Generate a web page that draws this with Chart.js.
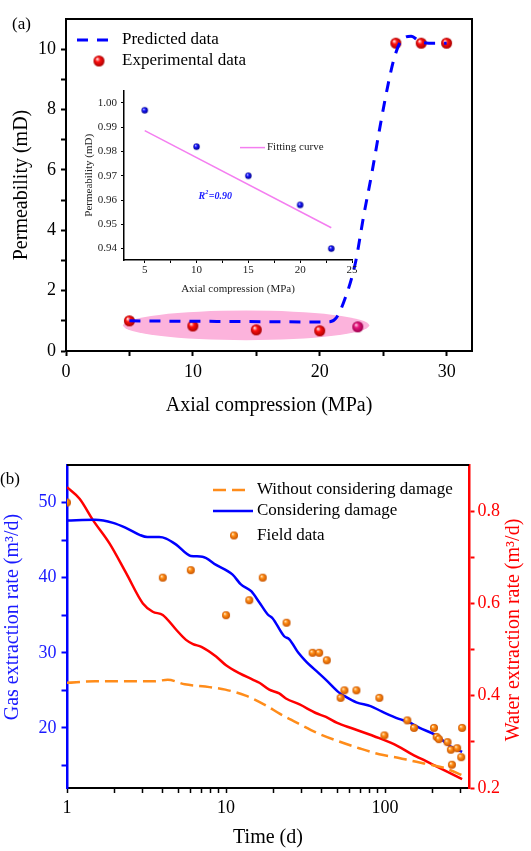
<!DOCTYPE html>
<html>
<head>
<meta charset="utf-8">
<script src="https://cdn.jsdelivr.net/npm/chart.js@4"></script>
<style>
  html, body { margin: 0; padding: 0; background: #fff; }
  #wrap { position: relative; width: 531px; height: 851px; overflow: hidden; }
  #wrap canvas { position: absolute; }
</style>
</head>
<body>
<div id="wrap">
  <canvas id="chartA" width="531" height="420" style="left:0;top:0"></canvas>
  <canvas id="chartInset" width="285" height="220" style="left:80px;top:80px"></canvas>
  <canvas id="chartB" width="531" height="431" style="left:0;top:420px"></canvas>
</div>
<script>
// (a) permeability vs axial compression
const pressure = [5, 10, 15, 20, 23, 26, 28, 30];
const permeabilityExp = [1.0, 0.83, 0.70, 0.67, 0.80, 10.2, 10.2, 10.2];
const predictedPressure = [5, 8, 12, 16, 20, 20.8, 21.3, 21.9, 22.8, 23.45, 24.1, 24.75, 25.4, 25.9, 26.45, 27.2, 27.9, 28.6, 30];
const predictedPermeability = [1.0, 0.99, 0.98, 0.97, 0.96, 0.97, 1.1, 1.63, 2.9, 4.45, 5.88, 7.43, 8.86, 9.75, 10.3, 10.43, 10.25, 10.2, 10.2];
// highlighted low-pressure region (x range, y range)
const highlightX = [4.5, 23.9];
const highlightY = [0.36, 1.34];

// inset: low-pressure detail
const insetPressure = [5, 10, 15, 20, 23];
const insetPermeability = [0.997, 0.982, 0.970, 0.958, 0.940];
const fitPressure = [5, 23];
const fitPermeability = [0.9886, 0.9486];

// (b) extraction rates vs time
const fieldTime = [1, 4, 6, 10, 14, 17, 24, 35, 38.5, 43, 52.5, 55.5, 66, 92, 99, 138, 152, 203, 211, 218, 247, 259, 263, 284, 301, 305];
const fieldGas = [50, 40, 41, 35, 37, 40, 34, 30, 30, 29, 24, 25, 25, 24, 19, 21, 20, 20, 18.8, 18.5, 18.1, 17.1, 15.1, 17.3, 16.1, 20];
const damageTime = [1, 1.5, 1.95, 2.36, 2.86, 3.2, 3.8, 4.2, 4.86, 6.0, 7.1, 8.66, 11.0, 12.4, 14.4, 16.2, 18.3, 19.6, 23.2, 25, 28.5, 32, 36, 42.5, 51.4, 56, 66, 81, 95, 122, 140, 165, 210, 255, 305];
const damageGas = [47.6, 47.7, 47.3, 46.6, 45.7, 45.4, 45.4, 45.2, 44.4, 42.9, 42.8, 41.7, 40.4, 39.1, 38.2, 36.7, 35.1, 34.6, 32.2, 31.8, 30.0, 28.8, 27.8, 26.4, 24.7, 24.2, 23.4, 22.9, 22.2, 21.2, 20.8, 20.0, 19.0, 17.6, 16.8];
const noDamageTime = [1, 1.5, 2.5, 3.5, 4.3, 5.5, 7.4, 9.9, 13.3, 17.8, 21.7, 29, 38.6, 51.4, 68.6, 92, 122.5, 148, 203, 241, 305];
const noDamageGas = [26.0, 26.2, 26.2, 26.2, 26.4, 25.8, 25.5, 25.1, 24.3, 23.0, 21.9, 20.5, 19.2, 18.2, 17.3, 16.5, 16.0, 15.6, 15.0, 14.6, 13.7];
const waterTime = [1, 1.2, 1.46, 1.85, 2.36, 3.0, 3.46, 4.0, 4.86, 5.6, 6.2, 7.0, 8.66, 10, 12.1, 14.7, 16.2, 18.7, 21.6, 23.8, 29, 37, 42.5, 50, 62.5, 92, 120, 148, 181, 240, 305];
const waterRate = [0.852, 0.827, 0.780, 0.730, 0.665, 0.600, 0.582, 0.575, 0.543, 0.521, 0.512, 0.506, 0.485, 0.466, 0.449, 0.435, 0.428, 0.413, 0.405, 0.394, 0.381, 0.362, 0.354, 0.341, 0.329, 0.308, 0.291, 0.273, 0.258, 0.237, 0.219];

const SERIF = "'Liberation Serif', 'Times New Roman', serif";
Chart.defaults.font.family = SERIF;
Chart.defaults.color = '#000';

function zip(xs, ys) {
    return xs.map((x, i) => ({ x: x, y: ys[i] }));
}

// shaded sphere used as point marker
function makeBall(r, light, base, dark) {
    const c = document.createElement('canvas');
    const s = Math.ceil(r * 2) + 2;
    c.width = c.height = s;
    const g = c.getContext('2d');
    const cx = s / 2, cy = s / 2;
    const grad = g.createRadialGradient(cx - r * 0.35, cy - r * 0.4, r * 0.05, cx, cy, r);
    grad.addColorStop(0, light);
    grad.addColorStop(0.4, base);
    grad.addColorStop(1, dark);
    g.fillStyle = grad;
    g.beginPath();
    g.arc(cx, cy, r, 0, Math.PI * 2);
    g.fill();
    return c;
}

const redBall = makeBall(5.5, '#fff2f2', '#ff1010', '#a80000');
const pinkBall = makeBall(5.5, '#ffd0e8', '#e8147c', '#9a004c');
const orangeBall = makeBall(4, '#fff0d0', '#ff8c14', '#c85400');
const blueBall = makeBall(3.2, '#d8d8ff', '#1414ff', '#00008c');

function axisGrid(color, len, width) {
    return { display: true, drawOnChartArea: false, drawTicks: true, tickLength: len, tickWidth: width, tickColor: color };
}

// ---------- (a) ----------
const plotA = {
    id: 'plotA',
    beforeDatasetsDraw(chart) {
        const { ctx, scales: { x, y } } = chart;
        const cx = x.getPixelForValue((highlightX[0] + highlightX[1]) / 2);
        const cy = y.getPixelForValue((highlightY[0] + highlightY[1]) / 2);
        const rx = x.getPixelForValue(highlightX[1]) - cx;
        const ry = cy - y.getPixelForValue(highlightY[1]);
        ctx.save();
        ctx.fillStyle = '#fcb3dc';
        ctx.beginPath();
        ctx.ellipse(cx, cy, rx, ry, 0, 0, Math.PI * 2);
        ctx.fill();
        ctx.restore();
    },
    afterDraw(chart) {
        const { ctx, chartArea: a } = chart;
        ctx.save();
        ctx.strokeStyle = '#000';
        ctx.lineWidth = 2;
        ctx.beginPath();
        ctx.moveTo(a.left - 1, a.top);
        ctx.lineTo(a.right, a.top);
        ctx.lineTo(a.right, a.bottom + 1);
        ctx.stroke();

        // legend
        ctx.strokeStyle = '#0000ff';
        ctx.lineWidth = 3;
        ctx.setLineDash([11, 9]);
        ctx.beginPath();
        ctx.moveTo(77, 40);
        ctx.lineTo(108, 40);
        ctx.stroke();
        ctx.setLineDash([]);
        ctx.drawImage(redBall, 99 - redBall.width / 2, 61 - redBall.height / 2);
        ctx.fillStyle = '#000';
        ctx.font = '17px ' + SERIF;
        ctx.textBaseline = 'middle';
        ctx.textAlign = 'left';
        ctx.fillText('Predicted data', 122, 40);
        ctx.fillText('Experimental data', 122, 61);
        ctx.fillText('(a)', 12, 25);
        ctx.restore();
    }
};

new Chart(document.getElementById('chartA'), {
    type: 'scatter',
    data: {
        datasets: [{
            label: 'Predicted data',
            data: zip(predictedPressure, predictedPermeability),
            showLine: true,
            borderColor: '#0000ff',
            borderWidth: 3,
            borderDash: [11, 9],
            pointRadius: 0,
            cubicInterpolationMode: 'monotone'
        }, {
            label: 'Experimental data',
            data: zip(pressure, permeabilityExp),
            pointStyle: ctx => (ctx.raw && ctx.raw.x === 23 ? pinkBall : redBall),
            pointRadius: 5.5
        }]
    },
    options: {
        responsive: false,
        animation: false,
        events: [],
        layout: { padding: { left: 0, right: 59, top: 19, bottom: 0 } },
        plugins: { legend: { display: false }, tooltip: { enabled: false } },
        scales: {
            x: {
                type: 'linear', min: 0, max: 32,
                afterFit: s => { s.height = 69; },
                ticks: {
                    stepSize: 5, includeBounds: false, padding: 5, font: { size: 18 },
                    callback: v => (v % 10 === 0 ? String(v) : '')
                },
                grid: axisGrid('#000', 5, 2),
                border: { display: true, color: '#000', width: 2 },
                title: { display: true, text: 'Axial compression (MPa)', font: { size: 20 }, padding: { top: 0, bottom: 2 } }
            },
            y: {
                min: 0, max: 11,
                afterFit: s => { s.width = 66; },
                ticks: {
                    stepSize: 1, includeBounds: false, padding: 5, font: { size: 18 },
                    callback: v => (v === 11 ? null : (v % 2 === 0 ? String(v) : ''))
                },
                grid: axisGrid('#000', 5, 2),
                border: { display: true, color: '#000', width: 2 },
                title: { display: true, text: 'Permeability (mD)', font: { size: 20 }, padding: { top: 10, bottom: 0 } }
            }
        }
    },
    plugins: [plotA]
});

// ---------- inset ----------
const insetText = {
    id: 'insetText',
    afterDraw(chart) {
        const { ctx, chartArea: a, scales: { x, y } } = chart;
        ctx.save();
        // legend entry
        ctx.strokeStyle = '#f47ef0';
        ctx.lineWidth = 1.5;
        ctx.beginPath();
        ctx.moveTo(a.left + 116, a.top + 57);
        ctx.lineTo(a.left + 141, a.top + 57);
        ctx.stroke();
        ctx.fillStyle = '#222';
        ctx.font = '11px ' + SERIF;
        ctx.textBaseline = 'middle';
        ctx.fillText('Fitting curve', a.left + 143, a.top + 57);

        // R² annotation
        const px = x.getPixelForValue(10.2);
        const py = y.getPixelForValue(0.962);
        ctx.fillStyle = '#1a1aff';
        ctx.font = 'italic bold 10px ' + SERIF;
        ctx.textBaseline = 'alphabetic';
        ctx.fillText('R', px, py + 4);
        const w = ctx.measureText('R').width;
        ctx.font = 'italic bold 6px ' + SERIF;
        ctx.fillText('2', px + w, py - 1);
        ctx.font = 'italic bold 10px ' + SERIF;
        ctx.fillText('=0.90', px + w + 3.5, py + 4);
        ctx.restore();
    }
};

new Chart(document.getElementById('chartInset'), {
    type: 'scatter',
    data: {
        datasets: [{
            data: zip(insetPressure, insetPermeability),
            pointStyle: blueBall,
            pointRadius: 3.2
        }, {
            data: zip(fitPressure, fitPermeability),
            showLine: true,
            borderColor: '#f47ef0',
            borderWidth: 1.5,
            pointRadius: 0
        }]
    },
    options: {
        responsive: false,
        animation: false,
        events: [],
        layout: { padding: { left: 0, right: 13, top: 5, bottom: 0 } },
        plugins: { legend: { display: false }, tooltip: { enabled: false } },
        scales: {
            x: {
                type: 'linear', min: 3, max: 25,
                afterFit: s => { s.height = 40; },
                ticks: {
                    stepSize: 2.5, includeBounds: false, padding: 1, color: '#222', font: { size: 11 },
                    callback: v => (v % 5 === 0 ? String(v) : '')
                },
                grid: axisGrid('#000', 3, 1),
                border: { display: true, color: '#000', width: 1.5 },
                title: { display: true, text: 'Axial compression (MPa)', color: '#222', font: { size: 11 }, padding: { top: 0, bottom: 4 } }
            },
            y: {
                min: 0.9353, max: 1.0051,
                afterFit: s => { s.width = 44; },
                ticks: {
                    stepSize: 0.005, includeBounds: false, padding: 4, color: '#222', font: { size: 11 },
                    callback: v => {
                        const k = Math.round(v * 1000);
                        if (k > 1000) return null;
                        return k % 10 === 0 ? (k / 1000).toFixed(2) : '';
                    }
                },
                grid: axisGrid('#000', 3, 1),
                border: { display: true, color: '#000', width: 1.5 },
                title: { display: true, text: 'Permeability (mD)', color: '#222', font: { size: 11 }, padding: { top: 3, bottom: 0 } }
            }
        }
    },
    plugins: [insetText]
});

// ---------- (b) ----------
const plotB = {
    id: 'plotB',
    afterDraw(chart) {
        const { ctx, chartArea: a } = chart;
        ctx.save();
        ctx.strokeStyle = '#000';
        ctx.lineWidth = 2;
        ctx.beginPath();
        ctx.moveTo(a.left, a.top);
        ctx.lineTo(a.right, a.top);
        ctx.stroke();

        // axis titles, both read bottom to top
        ctx.font = '20px ' + SERIF;
        ctx.textAlign = 'center';
        ctx.textBaseline = 'middle';
        ctx.save();
        ctx.translate(12.5, 197);
        ctx.rotate(-Math.PI / 2);
        ctx.fillStyle = '#1a1aff';
        ctx.fillText('Gas extraction rate (m\u00b3/d)', 0, 0);
        ctx.restore();
        ctx.save();
        ctx.translate(513.5, 210);
        ctx.rotate(-Math.PI / 2);
        ctx.fillStyle = '#ff0000';
        ctx.fillText('Water extraction rate (m\u00b3/d)', 0, 0);
        ctx.restore();

        // legend
        ctx.lineWidth = 2.5;
        ctx.strokeStyle = '#ff8c1a';
        ctx.setLineDash([13, 6]);
        ctx.beginPath();
        ctx.moveTo(213, 70);
        ctx.lineTo(245, 70);
        ctx.stroke();
        ctx.setLineDash([]);
        ctx.strokeStyle = '#0000ff';
        ctx.beginPath();
        ctx.moveTo(213, 91);
        ctx.lineTo(253, 91);
        ctx.stroke();
        ctx.drawImage(orangeBall, 234 - orangeBall.width / 2, 115.5 - orangeBall.height / 2);
        ctx.fillStyle = '#000';
        ctx.font = '17px ' + SERIF;
        ctx.textAlign = 'left';
        ctx.fillText('Without considering damage', 257, 70);
        ctx.fillText('Considering damage', 257, 91);
        ctx.fillText('Field data', 257, 115.5);
        ctx.fillText('(b)', 0, 60);
        ctx.restore();
    }
};

new Chart(document.getElementById('chartB'), {
    type: 'scatter',
    data: {
        datasets: [{
            label: 'Field data',
            data: zip(fieldTime, fieldGas),
            pointStyle: orangeBall,
            pointRadius: 4,
            yAxisID: 'y'
        }, {
            label: 'Considering damage',
            data: zip(damageTime, damageGas),
            showLine: true,
            borderColor: '#0000ff',
            borderWidth: 2.5,
            pointRadius: 0,
            cubicInterpolationMode: 'monotone',
            yAxisID: 'y'
        }, {
            label: 'Without considering damage',
            data: zip(noDamageTime, noDamageGas),
            showLine: true,
            borderColor: '#ff8c1a',
            borderWidth: 2.5,
            borderDash: [13, 6],
            pointRadius: 0,
            cubicInterpolationMode: 'monotone',
            yAxisID: 'y'
        }, {
            label: 'Water extraction rate',
            data: zip(waterTime, waterRate),
            showLine: true,
            borderColor: '#ff0000',
            borderWidth: 2.5,
            pointRadius: 0,
            cubicInterpolationMode: 'monotone',
            yAxisID: 'y1'
        }]
    },
    options: {
        responsive: false,
        animation: false,
        events: [],
        layout: { padding: { left: 0, right: 0, top: 45, bottom: 0 } },
        plugins: { legend: { display: false }, tooltip: { enabled: false } },
        scales: {
            x: {
                type: 'logarithmic', min: 1, max: 337,
                afterFit: s => { s.height = 63; },
                afterBuildTicks: s => {
                    s.ticks = s.ticks.filter(t => {
                        const m = t.value / Math.pow(10, Math.floor(Math.log10(t.value) + 1e-9));
                        return Math.abs(m - Math.round(m)) < 1e-6 && t.value < 336;
                    });
                },
                ticks: {
                    padding: 4, font: { size: 18 }, autoSkip: false, maxRotation: 0,
                    callback: v => {
                        const l = Math.log10(v);
                        return Math.abs(l - Math.round(l)) < 1e-6 ? String(Math.round(v)) : '';
                    }
                },
                grid: axisGrid('#000', 5, 1.5),
                border: { display: true, color: '#000', width: 2 },
                title: { display: true, text: 'Time (d)', font: { size: 20 }, padding: { top: 0, bottom: 1 } }
            },
            y: {
                position: 'left', min: 12, max: 55,
                afterFit: s => { s.width = 67; },
                ticks: {
                    stepSize: 5, includeBounds: false, padding: 5, color: '#1a1aff', font: { size: 18 },
                    callback: v => (v > 54 ? null : (v % 10 === 0 ? String(v) : ''))
                },
                grid: axisGrid('#0000ff', 5.5, 2),
                border: { display: true, color: '#0000ff', width: 2.5 }
            },
            y1: {
                position: 'right', min: 0.2, max: 0.9,
                afterFit: s => { s.width = 62; },
                ticks: {
                    stepSize: 0.1, includeBounds: false, padding: 3, color: '#ff0000', font: { size: 18 },
                    callback: v => {
                        const k = Math.round(v * 10);
                        if (k >= 9) return null;
                        return k % 2 === 0 ? (k / 10).toFixed(1) : '';
                    }
                },
                grid: axisGrid('#ff0000', 5.5, 2),
                border: { display: true, color: '#ff0000', width: 2.5 }
            }
        }
    },
    plugins: [plotB]
});
</script>
</body>
</html>
